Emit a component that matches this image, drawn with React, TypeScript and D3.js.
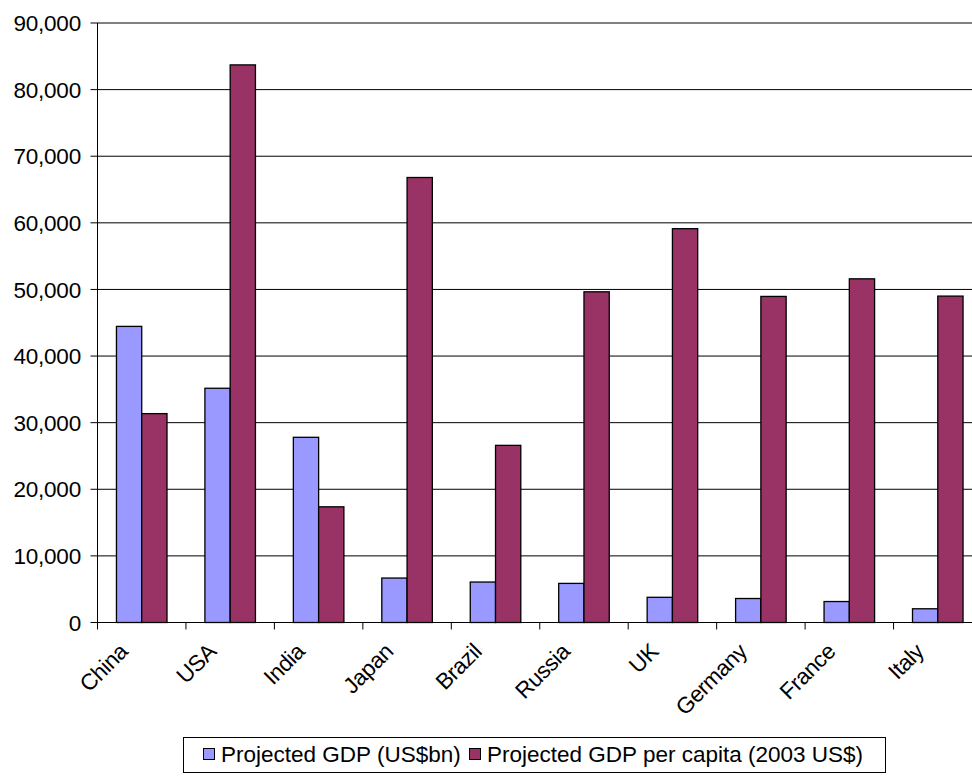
import React from "react";
import * as d3 from "d3";

const countries = ["China", "USA", "India", "Japan", "Brazil", "Russia", "UK", "Germany", "France", "Italy"];
const gdpBn = [44453, 35165, 27803, 6673, 6074, 5870, 3782, 3603, 3148, 2061];
const gdpPerCapita = [31357, 83710, 17366, 66805, 26592, 49646, 59122, 48952, 51594, 49000];
const seriesNames = ["Projected GDP (US$bn)", "Projected GDP per capita (2003 US$)"];
const seriesColors = ["#9999FF", "#993366"];
const yTicks = [0, 10000, 20000, 30000, 40000, 50000, 60000, 70000, 80000, 90000];

const W = 972;
const H = 776;
const plot = { left: 97.5, right: 982, top: 23, bottom: 622.5 };
const FONT = "'Liberation Sans', Arial, sans-serif";
const FS = 22.5;

export default function App() {
  const x = d3.scaleBand<string>().domain(countries).range([plot.left, plot.right]).paddingInner(0).paddingOuter(0);
  // two bars per category with a 150% gap between groups
  const bw = x.bandwidth() / 3.5;
  const gap = (x.bandwidth() - 2 * bw) / 2;
  const y = d3.scaleLinear().domain([0, 90000]).range([plot.bottom, plot.top]);
  const fmt = d3.format(",");
  const series = [gdpBn, gdpPerCapita];

  return (
    <svg width={W} height={H} style={{ position: "absolute", left: 0, top: 0, background: "#fff" }} fontFamily={FONT}>
      <rect x={0} y={0} width={W} height={H} fill="#fff" />
      {/* horizontal gridlines */}
      {yTicks.map((t) => (
        <line key={"g" + t} x1={plot.left} x2={plot.right} y1={y(t)} y2={y(t)} stroke="#000" strokeWidth={1} />
      ))}
      {/* y tick marks + labels */}
      {yTicks.map((t) => (
        <g key={"yt" + t}>
          <line x1={plot.left - 7} x2={plot.left} y1={y(t)} y2={y(t)} stroke="#000" strokeWidth={1} />
          <text x={81} y={y(t)} dy="0.36em" textAnchor="end" fontSize={FS} fill="#000" letterSpacing={-0.2}>
            {fmt(t)}
          </text>
        </g>
      ))}
      {/* bars */}
      {countries.map((c, i) => (
        <g key={c}>
          {series.map((s, k) => (
            <rect
              key={k}
              x={(x(c) as number) + gap + k * bw}
              y={y(s[i])}
              width={bw}
              height={y(0) - y(s[i])}
              fill={seriesColors[k]}
              stroke="#000"
              strokeWidth={1.3}
            />
          ))}
        </g>
      ))}
      {/* axes */}
      <line x1={plot.left} x2={plot.left} y1={plot.top} y2={plot.bottom} stroke="#000" strokeWidth={1} />
      <line x1={plot.left} x2={plot.right} y1={plot.bottom} y2={plot.bottom} stroke="#000" strokeWidth={1} />
      {countries.map((c) => (
        <line key={"xt" + c} x1={x(c) as number} x2={x(c) as number} y1={plot.bottom} y2={plot.bottom + 7} stroke="#000" strokeWidth={1} />
      ))}
      {/* category labels */}
      {countries.map((c) => {
        const cx = (x(c) as number) + x.bandwidth() / 2;
        return (
          <text
            key={"xl" + c}
            transform={`translate(${cx - 24},${plot.bottom + 19}) rotate(-45)`}
            dy="0.72em"
            textAnchor="end"
            fontSize={FS}
            fill="#000"
            letterSpacing={-0.4}
          >
            {c}
          </text>
        );
      })}
      {/* legend */}
      <g>
        <rect x={183.5} y={737.5} width={702} height={35} fill="#fff" stroke="#000" strokeWidth={1} />
        {seriesNames.map((n, k) => {
          const lx = k === 0 ? 203 : 469;
          return (
            <g key={n}>
              <rect x={lx + 0.5} y={748.5} width={11} height={11} fill={seriesColors[k]} stroke="#000" strokeWidth={1} />
              <text x={lx + 18} y={762} fontSize={FS} fill="#000">
                {n}
              </text>
            </g>
          );
        })}
      </g>
    </svg>
  );
}
